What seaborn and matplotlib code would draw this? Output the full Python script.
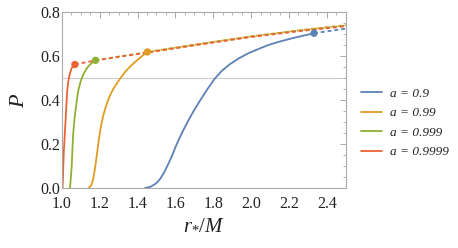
import matplotlib
matplotlib.use("Agg")
import matplotlib.pyplot as plt
import seaborn as sns
import pandas as pd
from matplotlib.ticker import MultipleLocator, FormatStrFormatter

sns.set_theme(style="white")
plt.rcParams['font.family'] = ['Liberation Serif', 'DejaVu Serif']
plt.rcParams['mathtext.fontset'] = 'custom'
plt.rcParams['mathtext.rm'] = 'Liberation Serif'
plt.rcParams['mathtext.it'] = 'Liberation Serif:italic'

labels = ["a = 0.9", "a = 0.99", "a = 0.999", "a = 0.9999"]
colors = ["#5E81B5", "#E19C24", "#8FB032", "#EB6235"]

# solid parts (end at the marker)
x_blue = [1.44, 1.47, 1.50, 1.52, 1.54, 1.563, 1.585, 1.60, 1.62, 1.642, 1.665, 1.695,
          1.727, 1.765, 1.807, 1.845, 1.887, 1.935, 1.985, 2.04, 2.092, 2.15, 2.216, 2.275, 2.332]
p_blue = [0.0, 0.006, 0.022, 0.042, 0.07, 0.11, 0.152, 0.185, 0.224, 0.263, 0.301, 0.348,
          0.393, 0.444, 0.496, 0.532, 0.562, 0.589, 0.612, 0.632, 0.65, 0.665, 0.68, 0.692, 0.703]
x_orange = [1.142, 1.155, 1.164, 1.172, 1.18, 1.188, 1.196, 1.205, 1.216, 1.229, 1.242, 1.256,
            1.273, 1.292, 1.313, 1.336, 1.362, 1.389, 1.42, 1.452]
p_orange = [0.0, 0.012, 0.035, 0.072, 0.118, 0.17, 0.222, 0.272, 0.32, 0.36, 0.394, 0.423,
            0.452, 0.477, 0.503, 0.529, 0.553, 0.574, 0.597, 0.618]
x_green = [1.043, 1.047, 1.052, 1.056, 1.06, 1.067, 1.075, 1.081, 1.087, 1.096, 1.105,
           1.118, 1.132, 1.15, 1.167, 1.178]
p_green = [0.0, 0.04, 0.097, 0.175, 0.245, 0.315, 0.37, 0.41, 0.443, 0.474, 0.498,
           0.523, 0.544, 0.562, 0.574, 0.58]
x_red = [1.004, 1.006, 1.008, 1.011, 1.016, 1.021, 1.025, 1.028, 1.033, 1.039, 1.045,
         1.052, 1.06, 1.069]
p_red = [0.0, 0.05, 0.11, 0.173, 0.25, 0.324, 0.39, 0.437, 0.478, 0.506, 0.527,
         0.544, 0.554, 0.561]

# dashed continuations (start at the marker)
xd_blue = [2.332, 2.42, 2.5]
pd_blue = [0.703, 0.714, 0.724]
xd_orange = [1.452, 1.7, 2.0, 2.25, 2.5]
pd_orange = [0.618, 0.651, 0.689, 0.716, 0.740]
xd_green = [1.178, 1.30, 1.452, 1.7, 2.0, 2.25, 2.5]
pd_green = [0.58, 0.597, 0.617, 0.650, 0.688, 0.715, 0.738]
xd_red = [1.069, 1.12, 1.178, 1.30, 1.452, 1.7, 2.0, 2.25, 2.5]
pd_red = [0.561, 0.57, 0.579, 0.596, 0.615, 0.648, 0.686, 0.712, 0.735]

solid_x = [x_blue, x_orange, x_green, x_red]
solid_p = [p_blue, p_orange, p_green, p_red]
dash_x = [xd_blue, xd_orange, xd_green, xd_red]
dash_p = [pd_blue, pd_orange, pd_green, pd_red]

fig = plt.figure(figsize=(4.58, 2.48), dpi=100)
ax = fig.add_axes([0.135, 0.242, 0.62, 0.71])

ax.axhline(0.5, color="#cccccc", lw=0.8, zorder=0)

rows = []
for lab, xs, ps in zip(labels, solid_x, solid_p):
    for x, p in zip(xs, ps):
        rows.append({"r": x, "P": p, "a": lab})
df = pd.DataFrame(rows)
sns.lineplot(data=df, x="r", y="P", hue="a", hue_order=labels, palette=colors,
             sort=False, estimator=None, lw=1.3, ax=ax, legend=True)

for lab, c, xs, ps in zip(labels, colors, dash_x, dash_p):
    d = pd.DataFrame({"r": xs, "P": ps})
    sns.lineplot(data=d, x="r", y="P", color=c, lw=1.3, ax=ax, sort=False,
                 estimator=None, linestyle=(0, (2.2, 1.6)), legend=False)
    sns.scatterplot(x=[xs[0]], y=[ps[0]], color=c, s=28, ax=ax, edgecolor="none",
                    legend=False, zorder=5)

ax.set_xlim(1.0, 2.5)
ax.set_ylim(0.0, 0.8)
ax.xaxis.set_major_locator(MultipleLocator(0.2))
ax.xaxis.set_minor_locator(MultipleLocator(0.05))
ax.yaxis.set_major_locator(MultipleLocator(0.2))
ax.yaxis.set_minor_locator(MultipleLocator(0.05))
ax.xaxis.set_major_formatter(FormatStrFormatter('%.1f'))
ax.yaxis.set_major_formatter(FormatStrFormatter('%.1f'))
ax.tick_params(which="both", direction="in", top=True, right=True, color="#999999",
               labelsize=11.5, labelcolor="#222222")
ax.tick_params(axis="x", which="major", pad=6)
ax.tick_params(axis="y", which="major", pad=1)
ax.tick_params(which="major", length=4, width=0.6)
ax.tick_params(which="minor", length=2, width=0.5)
for s in ax.spines.values():
    s.set_color("#aaaaaa")
    s.set_linewidth(0.8)

ax.set_xlabel(r"$r_{*}/M$", fontsize=15, labelpad=2, color="#222222")
ax.set_ylabel(r"$P$", fontsize=16, labelpad=8, color="#222222")

leg = ax.legend(loc="center left", bbox_to_anchor=(1.01, 0.37), frameon=False,
                fontsize=9.5, handlelength=1.6, handletextpad=0.6, labelspacing=0.55)
for t in leg.get_texts():
    t.set_fontstyle("italic")
    t.set_color("#222222")

fig.savefig("out.png", dpi=100)
